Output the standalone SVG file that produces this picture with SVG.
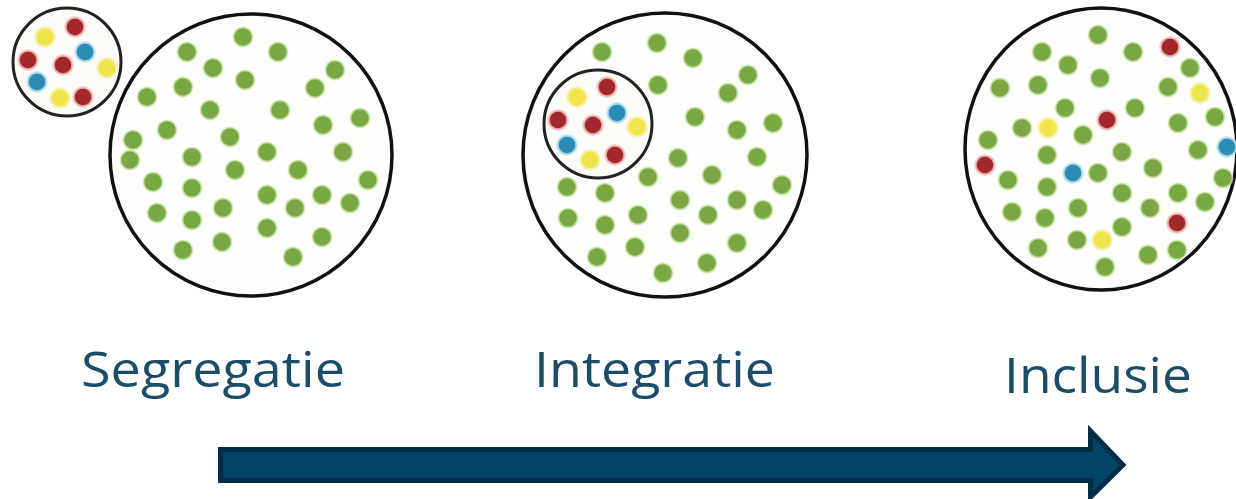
<svg xmlns="http://www.w3.org/2000/svg" width="1236" height="499" viewBox="0 0 1236 499">
<style>
.ring{fill:#fdfdfc;stroke:#111;stroke-width:3.5}
.sring{fill:#fbfbf8;stroke:#222;stroke-width:3}
.g{fill:#78a743;stroke:#c9e6a6;stroke-width:2;stroke-opacity:.7}
.r{fill:#a3282c;stroke:#f3c4c0;stroke-width:2.5;stroke-opacity:.8}
.y{fill:#f0e34c;stroke:#f7f1a6;stroke-width:2.5;stroke-opacity:.8}
.b{fill:#2b8bb3;stroke:#b9e2f0;stroke-width:2.5;stroke-opacity:.8}
.lbl{font-family:"Open Sans","Noto Sans","Liberation Sans",sans-serif;font-size:50px;fill:#1b4d68;font-variant-ligatures:none}
</style>
<defs>
<circle id="d" r="9.5"/>
</defs>
<rect width="1236" height="499" fill="#ffffff"/>

<g id="segregatie">
  <circle class="ring" cx="251" cy="155" r="141"/>
  <g>
    <use href="#d" class="g" x="243" y="37"/><use href="#d" class="g" x="278" y="52"/><use href="#d" class="g" x="187" y="52"/>
    <use href="#d" class="g" x="213" y="68"/><use href="#d" class="g" x="245" y="80"/><use href="#d" class="g" x="335" y="70"/>
    <use href="#d" class="g" x="315" y="88"/><use href="#d" class="g" x="183" y="87"/><use href="#d" class="g" x="147" y="97"/>
    <use href="#d" class="g" x="210" y="110"/><use href="#d" class="g" x="280" y="110"/><use href="#d" class="g" x="323" y="125"/>
    <use href="#d" class="g" x="360" y="118"/><use href="#d" class="g" x="167" y="130"/><use href="#d" class="g" x="230" y="137"/>
    <use href="#d" class="g" x="133" y="140"/><use href="#d" class="g" x="130" y="160"/><use href="#d" class="g" x="192" y="157"/>
    <use href="#d" class="g" x="267" y="152"/><use href="#d" class="g" x="343" y="152"/><use href="#d" class="g" x="235" y="170"/>
    <use href="#d" class="g" x="298" y="170"/><use href="#d" class="g" x="153" y="182"/><use href="#d" class="g" x="192" y="188"/>
    <use href="#d" class="g" x="368" y="180"/><use href="#d" class="g" x="267" y="195"/><use href="#d" class="g" x="322" y="195"/>
    <use href="#d" class="g" x="223" y="208"/><use href="#d" class="g" x="295" y="208"/><use href="#d" class="g" x="350" y="203"/>
    <use href="#d" class="g" x="157" y="213"/><use href="#d" class="g" x="192" y="220"/><use href="#d" class="g" x="267" y="228"/>
    <use href="#d" class="g" x="222" y="242"/><use href="#d" class="g" x="322" y="237"/><use href="#d" class="g" x="183" y="250"/>
    <use href="#d" class="g" x="293" y="257"/>
  </g>
  <circle class="sring" cx="67" cy="62" r="54"/>
  <g>
    <use href="#d" class="r" x="75" y="27"/><use href="#d" class="y" x="45" y="37"/><use href="#d" class="r" x="28" y="60"/>
    <use href="#d" class="r" x="63" y="65"/><use href="#d" class="b" x="85" y="52"/><use href="#d" class="y" x="107" y="68"/>
    <use href="#d" class="b" x="37" y="82"/><use href="#d" class="y" x="60" y="98"/><use href="#d" class="r" x="83" y="97"/>
  </g>
  <text class="lbl" x="81" y="387" textLength="264" lengthAdjust="spacingAndGlyphs">Segregatie</text>
</g>

<g id="integratie">
  <circle class="ring" cx="665" cy="155" r="142"/>
  <g>
    <use href="#d" class="g" x="602" y="52"/><use href="#d" class="g" x="657" y="43"/><use href="#d" class="g" x="693" y="58"/>
    <use href="#d" class="g" x="748" y="75"/><use href="#d" class="g" x="658" y="85"/><use href="#d" class="g" x="728" y="93"/>
    <use href="#d" class="g" x="695" y="117"/><use href="#d" class="g" x="737" y="130"/><use href="#d" class="g" x="773" y="123"/>
    <use href="#d" class="g" x="757" y="157"/><use href="#d" class="g" x="678" y="158"/><use href="#d" class="g" x="648" y="177"/>
    <use href="#d" class="g" x="712" y="175"/><use href="#d" class="g" x="782" y="185"/><use href="#d" class="g" x="567" y="187"/>
    <use href="#d" class="g" x="605" y="193"/><use href="#d" class="g" x="680" y="200"/><use href="#d" class="g" x="737" y="200"/>
    <use href="#d" class="g" x="763" y="210"/><use href="#d" class="g" x="638" y="215"/><use href="#d" class="g" x="708" y="215"/>
    <use href="#d" class="g" x="568" y="218"/><use href="#d" class="g" x="605" y="225"/><use href="#d" class="g" x="680" y="233"/>
    <use href="#d" class="g" x="737" y="243"/><use href="#d" class="g" x="635" y="247"/><use href="#d" class="g" x="597" y="257"/>
    <use href="#d" class="g" x="707" y="263"/><use href="#d" class="g" x="663" y="273"/>
  </g>
  <circle class="sring" cx="598" cy="124" r="54"/>
  <g>
    <use href="#d" class="r" x="607" y="87"/><use href="#d" class="y" x="577" y="97"/><use href="#d" class="r" x="558" y="120"/>
    <use href="#d" class="r" x="593" y="125"/><use href="#d" class="b" x="617" y="113"/><use href="#d" class="y" x="637" y="127"/>
    <use href="#d" class="b" x="567" y="145"/><use href="#d" class="y" x="590" y="160"/><use href="#d" class="r" x="615" y="155"/>
  </g>
  <text class="lbl" x="534" y="387" textLength="241" lengthAdjust="spacingAndGlyphs">Integratie</text>
</g>

<g id="inclusie">
  <ellipse class="ring" cx="1101" cy="149" rx="136" ry="141"/>
  <g>
    <use href="#d" class="g" x="1098" y="35"/><use href="#d" class="g" x="1042" y="52"/><use href="#d" class="g" x="1133" y="52"/>
    <use href="#d" class="g" x="1068" y="65"/><use href="#d" class="g" x="1100" y="78"/><use href="#d" class="g" x="1190" y="68"/>
    <use href="#d" class="g" x="1000" y="88"/><use href="#d" class="g" x="1038" y="85"/><use href="#d" class="g" x="1168" y="87"/>
    <use href="#d" class="g" x="1065" y="108"/><use href="#d" class="g" x="1135" y="108"/><use href="#d" class="g" x="1215" y="117"/>
    <use href="#d" class="g" x="1022" y="128"/><use href="#d" class="g" x="1083" y="135"/><use href="#d" class="g" x="1178" y="123"/>
    <use href="#d" class="g" x="988" y="140"/><use href="#d" class="g" x="1122" y="152"/><use href="#d" class="g" x="1198" y="150"/>
    <use href="#d" class="g" x="1047" y="155"/><use href="#d" class="g" x="1098" y="173"/><use href="#d" class="g" x="1153" y="168"/>
    <use href="#d" class="g" x="1008" y="180"/><use href="#d" class="g" x="1047" y="187"/><use href="#d" class="g" x="1122" y="193"/>
    <use href="#d" class="g" x="1223" y="178"/><use href="#d" class="g" x="1178" y="193"/><use href="#d" class="g" x="1205" y="202"/>
    <use href="#d" class="g" x="1078" y="208"/><use href="#d" class="g" x="1150" y="208"/><use href="#d" class="g" x="1012" y="212"/>
    <use href="#d" class="g" x="1045" y="218"/><use href="#d" class="g" x="1122" y="227"/><use href="#d" class="g" x="1077" y="240"/>
    <use href="#d" class="g" x="1038" y="248"/><use href="#d" class="g" x="1148" y="255"/><use href="#d" class="g" x="1177" y="250"/>
    <use href="#d" class="g" x="1105" y="267"/>
    <use href="#d" class="r" x="1170" y="47"/><use href="#d" class="y" x="1200" y="93"/><use href="#d" class="r" x="1107" y="120"/>
    <use href="#d" class="y" x="1048" y="128"/><use href="#d" class="b" x="1227" y="147"/><use href="#d" class="r" x="985" y="165"/>
    <use href="#d" class="b" x="1073" y="173"/><use href="#d" class="r" x="1177" y="223"/><use href="#d" class="y" x="1102" y="240"/>
  </g>
  <text class="lbl" x="1004" y="393" textLength="188" lengthAdjust="spacingAndGlyphs">Inclusie</text>
</g>

<g id="connectors">
  <path d="M220.5,449.5 H1090.5 V431 L1123,465 L1090.5,497 V480.5 H220.5 Z" fill="#014466" stroke="#032d47" stroke-width="5" stroke-linejoin="miter"/>
</g>
</svg>
